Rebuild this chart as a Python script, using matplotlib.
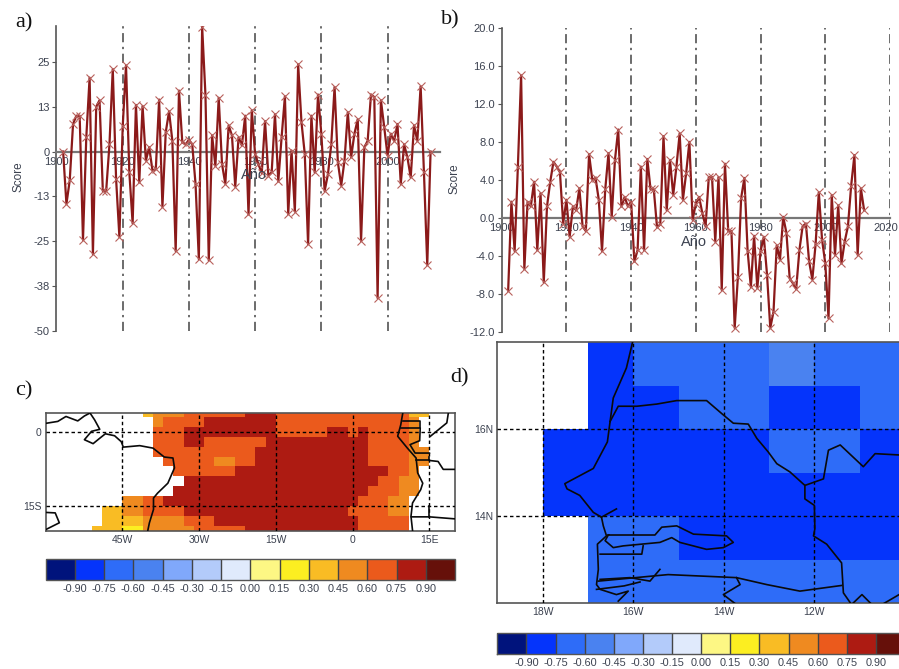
import numpy as np
import matplotlib
matplotlib.use('Agg')
import matplotlib.pyplot as plt
from matplotlib.colors import ListedColormap, BoundaryNorm
from matplotlib.cm import ScalarMappable
from matplotlib.transforms import ScaledTranslation

plt.rcParams['font.family'] = ['Liberation Sans', 'DejaVu Sans']

W, H = 899, 669
TEXT = '#3c4250'
LINE = '#8b1a1a'
MARK = '#b8605c'

# score series, one value per year starting in 1902
score_a = [0, -14.6, -8, 7.7, 10, 10, -24.6, 4, 20.6, -28.6, 12.5, 14.3, -11, -11, 2, 23, -7.6, -23.8,
           7, 24, -5.8, -20, 13, -8.6, 12.7, -2.5, 1.2, -5.3, -4.9, 14.5, -15.4, 5.4, 11.2, 3, -27.7, 17,
           2.6, 2, 3.3, 2, -9, -30, 34.8, 15.7, -30.3, 4.5, -4, 15, -3.5, -9, 7.3, 4.5, -9.8, 4, 1.7, 10,
           -17.5, 11.5, -0.8, -3.5, -6, 8.5, -6.7, -5.8, 10.4, -8.3, 4, 15.4, -17.4, 0.3, -16.7, 24.3, 8.2,
           -0.7, -25.8, 10, -5.8, 15.9, 5, -11, -6.3, 2, 18, -3, -9.5, -2.5, 11, -1.6, 5, 9, -24.9, 1.2, 3,
           15.9, 15.2, -40.8, 14.3, 6.8, -1.1, 5, 3, 7.7, -9, 2, -1.6, -7.2, 7.3, 3, 18.2, -5.8, -31.6, 0]
score_b = [-7.66, 1.7, -3.5, 5.4, 15, -5.4, 1.7, 1.2, 3.8, -3.4, 2.6, -6.8, 1.2, 3.8, 5.9, 5.4, 4.8, -0.6,
           1.9, -2, 1.2, 0.8, 3.1, -0.9, -1.4, 6.7, 4, 4.2, 1.9, -3.5, 3, 6.8, 0.1, 6.1, 9.3, 1.2, 2.2, 1.2,
           1.7, -4.6, -3.4, 5.4, -3.4, 6.2, 3, 3, -1, -0.7, 8.6, 0.8, 6.1, 2.4, 5.4, 8.9, 1.9, 4.7, 8, -0.2,
           1.5, 2.2, 0.5, -0.9, 4.3, 4.3, -2.5, 4.3, -7.6, 5.7, -1.4, -1.4, -11.6, -6.2, 2.1, 4.2, -3.5,
           -7.3, -1.9, -7.4, -3.5, -2, -6, -11.6, -9.9, -2.9, -4.4, 0.1, -1.6, -6.4, -6.9, -7.5, -3.4, -0.9,
           -0.6, -4.6, -6.5, -2.8, 2.7, -2.3, -4.8, -10.6, 2.4, -3.9, 1.3, -4.8, -2.5, -0.9, 3.4, 6.6, -3.9,
           3.1, 0.8]
first_year = 1902

year_ticks = [1900, 1920, 1940, 1960, 1980, 2000, 2020]
ticks_a = [25, 12.5, 0, -12.5, -25, -37.5, -50]
ticklabels_a = ['25', '13', '0', '-13', '-25', '-38', '-50']
ticks_b = [20, 16, 12, 8, 4, 0, -4, -8, -12]
ticklabels_b = ['20.0', '16.0', '12.0', '8.0', '4.0', '0.0', '-4.0', '-8.0', '-12.0']

# correlation classes, and the shared colour scale
class_values = {'.': np.nan, 'p': 0.225, 'y': 0.375, 'o': 0.525, 'r': 0.675, 'd': 0.825,
                'b': -0.825, 'm': -0.675, 'l': -0.525}
cbar_colors = ['#00137c', '#0534fb', '#2e6cf8', '#4a82f0', '#80a8fb', '#b3cbfa', '#e0eafc',
               '#fdf784', '#fcee21', '#f9bc24', '#ef8a20', '#eb5a1c', '#ad1b12', '#66100a']
cbar_bounds = [-1.05, -0.9, -0.75, -0.6, -0.45, -0.3, -0.15, 0.0, 0.15, 0.3, 0.45, 0.6, 0.75, 0.9, 1.05]
cbar_ticks = [-0.9, -0.75, -0.6, -0.45, -0.3, -0.15, 0.0, 0.15, 0.3, 0.45, 0.6, 0.75, 0.9]
cbar_labels = ['-0.90', '-0.75', '-0.60', '-0.45', '-0.30', '-0.15', '0.00', '0.15', '0.30', '0.45',
               '0.60', '0.75', '0.90']

# panel c, 2 degree cells, north to south, from 60W eastwards
lat_c = [4, 2, 0, -2, -4, -6, -8, -10, -12, -14, -16, -18, -20]
rows_c = [
    '.'*10 + 'y' + 'o'*3 + 'r'*6 + 'd'*3 + 'r'*13 + 'y'*2,
    '.'*11 + 'o' + 'r'*4 + 'd'*7 + 'r'*13 + 'o',
    '.'*11 + 'r'*3 + 'd'*9 + 'r'*5 + 'd'*2 + 'r' + 'd' + 'r'*4 + 'o',
    '.'*11 + 'r'*3 + 'd'*2 + 'r'*6 + 'd'*10 + 'r'*4 + 'o',
    '.'*11 + 'r'*10 + 'd'*11 + 'r'*4 + 'o'*2,
    '.'*12 + 'r'*5 + 'o'*2 + 'r'*2 + 'd'*11 + 'r'*4 + 'o'*2,
    '.'*13 + 'r'*6 + 'd'*15 + 'r'*2 + 'o',
    '.'*14 + 'd'*19 + 'r'*2 + 'o'*2,
    '.'*13 + 'd'*19 + 'r'*3 + 'o'*2,
    '.'*8 + 'o'*2 + 'r'*2 + 'd'*19 + 'r'*3 + 'o'*2,
    '.'*6 + 'y'*2 + 'o'*2 + 'r'*4 + 'd'*16 + 'r'*4 + 'o'*2,
    '.'*6 + 'y'*4 + 'o'*4 + 'r'*3 + 'd'*14 + 'r'*5,
    '.'*5 + 'y'*3 + 'p'*2 + 'o'*5 + 'r'*5 + 'd'*11 + 'r'*5,
]
lon_ticks_c = [-45, -30, -15, 0, 15]
lon_labels_c = ['45W', '30W', '15W', '0', '15E']
lat_ticks_c = [0, -15]
lat_labels_c = ['0', '15S']

# coast and border outlines for panel c (lon, lat)
coast_c = [
    [(-60, 1.7), (-57.6, 2.1), (-56, 3.1), (-53.7, 2.2), (-52.4, 3.2), (-51.3, 3.8), (-50.4, 2.4), (-49.4, 0.5),
     (-51, 0.1), (-52.4, -1.6), (-50.7, -2.4), (-49.4, -1.3), (-48.3, -0.4), (-46.5, -0.8), (-45.2, -2),
     (-44.8, -3.1), (-41.6, -2.8), (-39, -3.3), (-36.8, -5.1), (-35.1, -5.3), (-34.8, -7.3), (-36.1, -10.4),
     (-38.1, -12.4), (-38.9, -13.4), (-38.9, -15.7), (-39.7, -18.4), (-40, -19.9)],
    [(-60, -16.3), (-58.1, -16.4), (-57.3, -18.4), (-60, -19.8)],
    [(9.8, 3.8), (9.4, 1.4), (8.8, -0.9), (10.7, -3.3), (12.4, -5.3), (12.7, -8.3), (13.7, -10.4), (13.3, -11.7),
     (11.7, -14.4), (11.4, -17.1), (11.7, -19.9)],
    [(9.8, 2.1), (13.2, 2.1), (13.2, 0.7), (9.5, 0.7)],
    [(13.2, 0.7), (13.1, -1.8), (11.2, -2.6), (12.2, -4.3), (15, -4.3)],
    [(12.4, -5.8), (15, -5.8), (15, -5)],
    [(15, -5.8), (16.7, -6), (17.7, -7.6), (19.9, -7.6)],
    [(11.5, -17.2), (15, -17.2), (19.9, -17.6)],
    [(15, -15), (15, -17.2)],
    [(18.7, 3.8), (18.4, 1.8), (15.2, -0.9)],
]

# panel d, 1 degree cells, north to south, from 19W eastwards
lat_d = [17.5, 16.5, 15.5, 14.5, 13.5, 12.5]
rows_d = [
    '..bmmmlmm',
    '..bbmmbbm',
    '.bbbbbmmb',
    '.bbbbbbbb',
    '..mmbbbbb',
    '..mmmmmmm',
]
lon_ticks_d = [-18, -16, -14, -12]
lon_labels_d = ['18W', '16W', '14W', '12W']
lat_ticks_d = [16, 14]
lat_labels_d = ['16N', '14N']

coast_d = [
    [(-16.01, 18.02), (-16.15, 17.41), (-16.44, 16.72), (-16.51, 16.18), (-16.57, 15.71), (-16.88, 15.10),
     (-17.51, 14.75), (-17.46, 14.63), (-17.18, 14.48), (-16.88, 14.09), (-16.70, 13.98), (-16.66, 13.78),
     (-16.59, 13.55), (-16.79, 13.36), (-16.77, 12.78), (-16.81, 12.43), (-16.73, 12.32), (-16.37, 12.20),
     (-16.11, 12.28), (-16.33, 12.05)],
    [(-16.51, 16.18), (-16.33, 16.53), (-15.92, 16.53), (-15.48, 16.58), (-15.04, 16.66), (-14.38, 16.66),
     (-14.01, 16.33), (-13.79, 16.14), (-13.46, 16.12), (-13.27, 15.79), (-13.02, 15.48), (-12.83, 15.21),
     (-12.54, 15.02), (-12.21, 14.71), (-11.80, 14.86), (-11.69, 15.52), (-11.43, 15.64), (-10.92, 15.14),
     (-10.66, 15.44), (-10.13, 15.41)],
    [(-12.21, 14.71), (-12.21, 14.40), (-12.0, 14.25), (-11.99, 13.71), (-12.02, 13.55), (-11.73, 13.36),
     (-11.40, 12.93), (-11.36, 12.24), (-11.18, 11.97)],
    [(-16.77, 12.51), (-15.23, 12.66), (-13.72, 12.59), (-13.05, 12.43), (-12.32, 12.28), (-11.40, 12.41)],
    [(-16.55, 13.57), (-15.52, 13.57), (-15.37, 13.75), (-15.04, 13.78), (-14.67, 13.59), (-13.94, 13.55),
     (-13.79, 13.40), (-14.01, 13.28), (-14.38, 13.24), (-14.97, 13.40), (-15.15, 13.51), (-15.41, 13.40),
     (-16.22, 13.32), (-16.44, 13.28), (-16.62, 13.44), (-16.55, 13.57)],
    [(-16.73, 13.13), (-15.81, 13.13), (-15.78, 13.32)],
    [(-16.73, 12.55), (-16.07, 12.59), (-15.63, 12.51), (-15.41, 12.78)],
    [(-16.70, 13.98), (-16.37, 14.17)],
    [(-16.81, 12.32), (-16.2, 12.4), (-15.85, 12.49)],
    [(-13.72, 12.59), (-13.64, 12.43), (-14.01, 12.20), (-13.72, 11.97)],
    [(-11.18, 11.97), (-10.95, 12.20), (-10.73, 11.97)],
    [(-10.51, 11.97), (-10.13, 12.20)],
]


def px_axes(left, top, right, bottom):
    # axes placed by pixel edges of the picture
    return fig.add_axes([left / W, 1 - bottom / H, (right - left) / W, (bottom - top) / H])


def plot_score(ax, values, xlim, ylim, yticks, ylabels, xticks, ano_xy, score_xy):
    years = first_year + np.arange(len(values))
    ax.set_xlim(xlim)
    ax.set_ylim(ylim)
    for y in xticks[1:]:
        ax.axvline(y, color='#444444', lw=1.1, ls=(0, (6, 3, 1.5, 3)), zorder=1)
    ax.plot(years, values, color=LINE, lw=1.6, zorder=3)
    ax.plot(years, values, ls='none', marker='x', ms=6, mew=0.8, color=MARK, zorder=4)
    for side in ['top', 'right']:
        ax.spines[side].set_visible(False)
    ax.spines['left'].set_color('#555555')
    ax.spines['left'].set_linewidth(1.2)
    ax.spines['bottom'].set_position(('data', 0))
    ax.spines['bottom'].set_color('#777777')
    ax.spines['bottom'].set_linewidth(1.6)
    ax.set_yticks(yticks)
    ax.set_yticklabels(ylabels)
    ax.set_xticks(xticks)
    ax.set_xticklabels([str(y) for y in xticks])
    ax.tick_params(axis='y', length=3, width=0.8, color='#555555', labelsize=8, labelcolor=TEXT, pad=2)
    ax.tick_params(axis='x', length=0, labelsize=8, labelcolor=TEXT, pad=4)
    ax.patch.set_alpha(0)
    fig.text(ano_xy[0] / W, 1 - ano_xy[1] / H, 'Año', fontsize=10.5, color=TEXT, ha='center', va='center')
    fig.text(score_xy[0] / W, 1 - score_xy[1] / H, 'Score', fontsize=8.5, color=TEXT,
             rotation=90, ha='center', va='center')


def plot_map(ax, rows, lat, lon_start, step, xlim, ylim, xticks, xlabels, yticks, ylabels, coast):
    grid = np.array([[class_values[c] for c in row.ljust(max(len(r) for r in rows), '.')] for row in rows])
    lat = np.array(lat, dtype=float)
    lons = lon_start + step * np.arange(grid.shape[1] + 1) - step / 2
    lats = np.append(lat + step / 2, lat[-1] - step / 2)
    ax.pcolormesh(lons, lats, grid, cmap=cmap, norm=norm, zorder=1)
    for part in coast:
        pts = np.array(part)
        ax.plot(pts[:, 0], pts[:, 1], color='#0a0a0a', lw=1.2, zorder=3)
    ax.set_xlim(xlim)
    ax.set_ylim(ylim)
    ax.set_xticks(xticks)
    ax.set_xticklabels(xlabels)
    ax.set_yticks(yticks)
    ax.set_yticklabels(ylabels)
    ax.tick_params(length=0, labelsize=7.5, labelcolor=TEXT, pad=3)
    ax.grid(True, color='black', lw=1.0, ls=(0, (2.5, 2)), zorder=4)
    ax.set_axisbelow(False)
    for side in ax.spines.values():
        side.set_color('#555555')
        side.set_linewidth(1.2)


def plot_cbar(cax):
    cb = fig.colorbar(ScalarMappable(norm=norm, cmap=cmap), cax=cax, orientation='horizontal',
                      spacing='uniform', drawedges=True)
    cb.set_ticks(cbar_ticks)
    cb.set_ticklabels(cbar_labels)
    cb.ax.tick_params(length=0, labelsize=7.8, labelcolor=TEXT, pad=3)
    cb.ax.minorticks_off()
    cb.dividers.set_color('#444444')
    cb.dividers.set_linewidth(1.0)
    cb.outline.set_edgecolor('#555555')
    cb.outline.set_linewidth(1.0)


cmap = ListedColormap(cbar_colors)
cmap.set_bad('white')
norm = BoundaryNorm(cbar_bounds, cmap.N)

fig = plt.figure(figsize=(W / 100, H / 100), dpi=100)

ax_a = px_axes(56.5, 26, 440.5, 331)
plot_score(ax_a, score_a, (1900, 2016), (-50, 35), ticks_a, ticklabels_a, year_ticks[:-1], (254, 175), (18, 177))
ax_b = px_axes(501.7, 28, 890, 331.7)
plot_score(ax_b, score_b, (1900, 2020), (-12, 20), ticks_b, ticklabels_b, year_ticks, (694, 242), (455, 179))

# the 2020 label sits a little left so it stays inside the picture
last_label = ax_b.get_xticklabels()[-1]
last_label.set_transform(last_label.get_transform() + ScaledTranslation(-3 / 72, 0, fig.dpi_scale_trans))

ax_c = px_axes(45.5, 413, 455, 530.7)
plot_map(ax_c, rows_c, lat_c, -60, 2, (-60, 20), (-20, 3.8), lon_ticks_c, lon_labels_c, lat_ticks_c, lat_labels_c, coast_c)
plot_cbar(px_axes(45.5, 559.3, 455, 580))

ax_d = px_axes(497.3, 342.3, 905, 603.3)
plot_map(ax_d, rows_d, lat_d, -18.5, 1, (-19, -10), (12, 18), lon_ticks_d, lon_labels_d, lat_ticks_d, lat_labels_d, coast_d)
plot_cbar(px_axes(497.3, 632.7, 905, 654))

for label, x, y in [('a)', 15, 23), ('b)', 441, 20), ('c)', 15, 391), ('d)', 450, 378)]:
    fig.text(x / W, 1 - y / H, label, family=['Liberation Serif'], fontsize=16, color='#111111', va='center')

fig.savefig('out.png', dpi=100)
